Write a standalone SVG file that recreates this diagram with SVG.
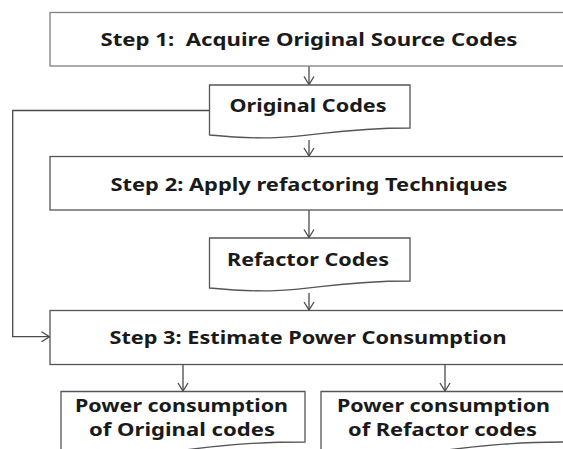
<svg xmlns="http://www.w3.org/2000/svg" width="563" height="449" viewBox="0 0 563 449">
<defs>
<style>
.box{fill:#fff;stroke:#555;stroke-width:1.3}
.lite{stroke:#808080}
.t{font-family:"Noto Sans","Open Sans","Liberation Sans",sans-serif;font-weight:bold;font-size:18px;fill:#1a1a1a;text-anchor:middle;white-space:pre}
.c{fill:none;stroke:#4a4a4a;stroke-width:1.3}
</style>
<marker id="ah" viewBox="0 0 10 12" refX="9" refY="6" markerWidth="10" markerHeight="12" markerUnits="userSpaceOnUse" orient="auto">
<path d="M1,1 L9,6 L1,11" fill="none" stroke="#4a4a4a" stroke-width="1.3"/>
</marker>
</defs>
<rect width="563" height="449" fill="#fff"/>
<g id="connectors">
<line class="c" x1="309" y1="66" x2="309" y2="84.5" marker-end="url(#ah)"/>
<line class="c" x1="309" y1="140" x2="309" y2="156" marker-end="url(#ah)"/>
<line class="c" x1="309" y1="210" x2="309" y2="237.5" marker-end="url(#ah)"/>
<line class="c" x1="309" y1="293" x2="309" y2="310" marker-end="url(#ah)"/>
<polyline class="c" points="209.5,110.5 12.7,110.5 12.7,336.7 49.5,336.7" marker-end="url(#ah)"/>
<line class="c" x1="183" y1="364.5" x2="183" y2="391" marker-end="url(#ah)"/>
<line class="c" x1="445" y1="364.5" x2="445" y2="391" marker-end="url(#ah)"/>
</g>
<g id="step1">
<rect class="box lite" x="50" y="12.5" width="519" height="53.5"/>
<text class="t" x="309" y="46" textLength="417" lengthAdjust="spacingAndGlyphs">Step 1:  Acquire Original Source Codes</text>
</g>
<g id="original-codes">
<path class="box" d="M209.5,85 H410 V128 C309.75,128 309.75,144.3 209.5,135 Z"/>
<text class="t" x="308" y="112.3" textLength="157" lengthAdjust="spacingAndGlyphs">Original Codes</text>
</g>
<g id="step2">
<rect class="box" x="50" y="156.5" width="519" height="53.5"/>
<text class="t" x="309" y="191" textLength="397" lengthAdjust="spacingAndGlyphs">Step 2: Apply refactoring Techniques</text>
</g>
<g id="refactor-codes">
<path class="box" d="M209.5,238 H410 V281 C309.75,281 309.75,297.3 209.5,288 Z"/>
<text class="t" x="308" y="266" textLength="162" lengthAdjust="spacingAndGlyphs">Refactor Codes</text>
</g>
<g id="step3">
<rect class="box" x="50" y="310.5" width="519" height="54"/>
<text class="t" x="308" y="344" textLength="397" lengthAdjust="spacingAndGlyphs">Step 3: Estimate Power Consumption</text>
</g>
<g id="power-original">
<path class="box" d="M61,391.5 H305 V442 C183,442 183,461 61,450.3 Z"/>
<text class="t" x="181.5" y="411.7" textLength="213" lengthAdjust="spacingAndGlyphs">Power consumption</text>
<text class="t" x="182" y="436" textLength="186" lengthAdjust="spacingAndGlyphs">of Original codes</text>
</g>
<g id="power-refactor">
<path class="box" d="M321,391.5 H569 V442 C445,442 445,461 321,450.3 Z"/>
<text class="t" x="443.5" y="411.7" textLength="213" lengthAdjust="spacingAndGlyphs">Power consumption</text>
<text class="t" x="442.5" y="436" textLength="189" lengthAdjust="spacingAndGlyphs">of Refactor codes</text>
</g>
</svg>
